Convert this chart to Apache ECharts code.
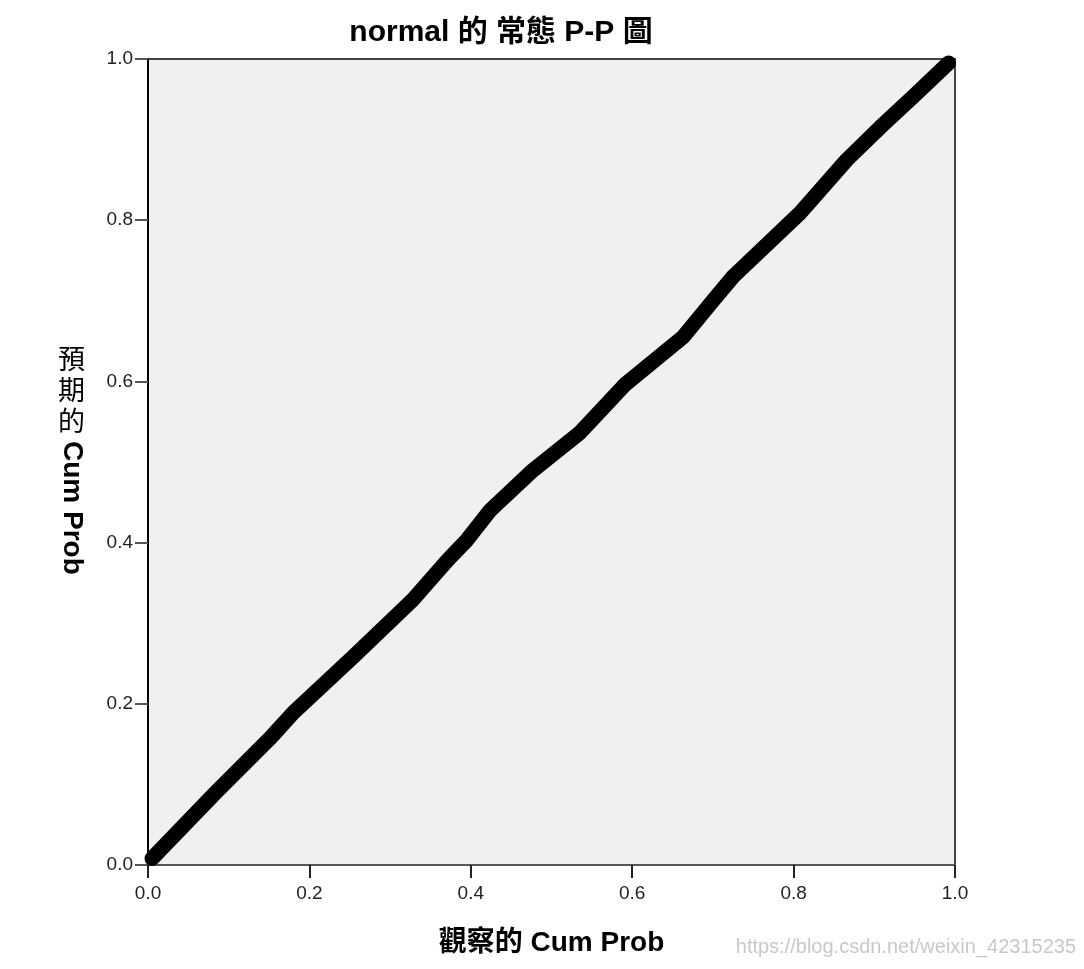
<!DOCTYPE html>
<html>
<head>
<meta charset="utf-8">
<script src="https://cdn.jsdelivr.net/npm/echarts@6/dist/echarts.min.js"></script>
<style>
  html, body { margin: 0; padding: 0; background: #fff; }
  #chart { width: 1084px; height: 969px; }
</style>
</head>
<body>
<div id="chart"></div>
<script>
var observed = [0.005, 0.083, 0.152, 0.180, 0.254, 0.328, 0.371, 0.395, 0.424, 0.475, 0.535, 0.591, 0.663, 0.70, 0.725, 0.808, 0.866, 0.907, 0.95, 0.992];
var expected = [0.008, 0.089, 0.158, 0.189, 0.258, 0.329, 0.378, 0.403, 0.440, 0.488, 0.536, 0.596, 0.655, 0.70, 0.73, 0.809, 0.875, 0.915, 0.955, 0.995];
var ticks = [0, 0.2, 0.4, 0.6, 0.8, 1.0];

var titleText = "normal 的 常態 P-P 圖";
var xName = "觀察的 Cum Prob";
var yNameCjk = "預\n期\n的";
var yNameLatin = "Cum Prob";
var watermark = "https://blog.csdn.net/weixin_42315235";

var FONT = "'Liberation Sans', Arial, 'Noto Sans CJK TC', sans-serif";

var points = observed.map(function (x, i) { return [x, expected[i]]; });

var chart = echarts.init(document.getElementById("chart"));

chart.setOption({
  backgroundColor: "#fff",
  animation: false,
  title: {
    text: titleText,
    left: 496,
    top: 13,
    textAlign: "center",
    textStyle: { fontFamily: FONT, fontSize: 30, fontWeight: "bold", color: "#000" }
  },
  grid: {
    left: 148,
    right: 129,
    top: 59,
    bottom: 104,
    show: true,
    backgroundColor: "#f0f0f0",
    borderColor: "#444",
    borderWidth: 2
  },
  xAxis: {
    type: "value",
    min: 0,
    max: 1,
    interval: 0.2,
    name: xName,
    nameLocation: "middle",
    nameGap: 64,
    nameTextStyle: { fontFamily: FONT, fontSize: 28, fontWeight: "bold", color: "#000" },
    axisLine: { lineStyle: { color: "#555", width: 2 } },
    axisTick: { length: 13, lineStyle: { color: "#222", width: 2 } },
    axisLabel: {
      margin: 19,
      fontFamily: FONT,
      fontSize: 19,
      color: "#222",
      formatter: function (v) { return v.toFixed(1); }
    },
    splitLine: { show: false }
  },
  yAxis: {
    type: "value",
    min: 0,
    max: 1,
    interval: 0.2,
    axisLine: { show: true, lineStyle: { color: "#000", width: 2 } },
    axisTick: { show: true, length: 13, lineStyle: { color: "#555", width: 2 } },
    axisLabel: {
      margin: 15,
      fontFamily: FONT,
      fontSize: 19,
      color: "#222",
      formatter: function (v) { return v.toFixed(1); }
    },
    splitLine: { show: false }
  },
  graphic: [
    {
      type: "text",
      left: 58,
      top: 346,
      style: {
        text: yNameCjk,
        fontFamily: FONT,
        fontSize: 27,
        lineHeight: 31,
        fill: "#000"
      }
    },
    {
      type: "text",
      x: 58,
      y: 441,
      rotation: -Math.PI / 2,
      style: {
        text: yNameLatin,
        fontFamily: FONT,
        fontSize: 28,
        fontWeight: "bold",
        fill: "#000",
        textVerticalAlign: "bottom"
      }
    },
    {
      type: "text",
      right: 8,
      top: 937,
      style: {
        text: watermark,
        fontFamily: FONT,
        fontSize: 20,
        fill: "#c8c8c8"
      }
    }
  ],
  series: [
    {
      type: "line",
      data: points,
      showSymbol: false,
      lineStyle: { color: "#000", width: 15, cap: "round", join: "round" }
    }
  ]
});
</script>
</body>
</html>
